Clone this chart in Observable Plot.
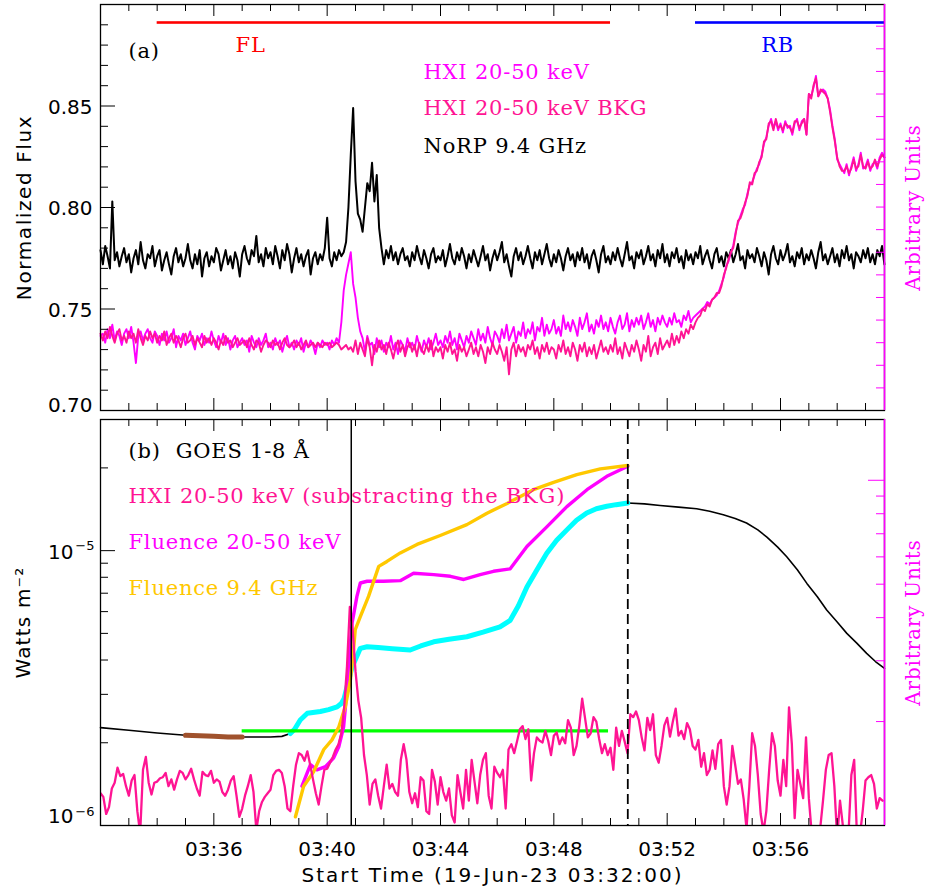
<!DOCTYPE html>
<html><head><meta charset="utf-8">
<script src="https://cdn.jsdelivr.net/npm/d3@7"></script>
<script src="https://cdn.jsdelivr.net/npm/@observablehq/plot@0.6"></script>
<style>
html,body{margin:0;padding:0;background:#fff;}
#chart{position:relative;width:930px;height:892px;background:#fff;}
#chart svg{position:absolute;left:0;background:#fff;}
svg [font-family="DejaVu Serif"]{letter-spacing:0.8px;}
</style></head><body><div id="chart"></div>
<script>
// ---------------- DATA ----------------
// time in minutes since 03:32:00
const tEnd = 27.67;
const stepA = 5 / 60;        // panel (a) cadence, minutes
const stepSub = 0.1;         // HXI background-subtracted cadence, minutes

// (a) NoRP 9.4 GHz normalized flux
const norp = [
0.779,0.772,0.781,0.776,0.770,0.803,0.774,0.778,0.771,0.776,0.780,0.773,
0.777,0.768,0.775,0.779,0.772,0.783,0.774,0.770,0.777,0.775,0.781,0.771,
0.776,0.779,0.769,0.774,0.778,0.772,0.767,0.776,0.780,0.773,0.777,0.771,
0.775,0.782,0.774,0.770,0.777,0.772,0.779,0.766,0.775,0.778,0.771,0.776,
0.773,0.780,0.777,0.769,0.774,0.779,0.772,0.776,0.770,0.778,0.774,0.766,
0.777,0.781,0.775,0.772,0.779,0.776,0.786,0.773,0.777,0.771,0.780,0.775,
0.778,0.772,0.781,0.776,0.770,0.779,0.774,0.782,0.777,0.768,0.775,0.780,
0.773,0.777,0.771,0.776,0.779,0.767,0.775,0.778,0.772,0.777,0.774,0.780,
0.795,0.775,0.771,0.778,0.774,0.779,0.776,0.778,0.783,0.800,0.826,0.849,
0.813,0.797,0.794,0.788,0.800,0.812,0.808,0.822,0.803,0.816,0.790,0.780,
0.772,0.779,0.775,0.781,0.774,0.778,0.772,0.777,0.780,0.774,0.776,0.771,
0.778,0.774,0.781,0.776,0.772,0.779,0.775,0.770,0.777,0.780,0.773,0.776,
0.774,0.779,0.771,0.776,0.782,0.775,0.772,0.778,0.774,0.780,0.776,0.770,
0.777,0.773,0.779,0.775,0.771,0.776,0.781,0.774,0.777,0.769,0.775,0.779,
0.774,0.778,0.783,0.773,0.777,0.771,0.766,0.776,0.780,0.774,0.778,0.772,
0.776,0.781,0.775,0.770,0.778,0.774,0.779,0.772,0.777,0.782,0.775,0.771,
0.777,0.773,0.779,0.775,0.769,0.776,0.780,0.774,0.777,0.771,0.778,0.774,
0.780,0.773,0.777,0.770,0.776,0.779,0.774,0.768,0.777,0.781,0.773,0.776,
0.772,0.778,0.774,0.780,0.775,0.771,0.777,0.783,0.774,0.776,0.770,0.778,
0.775,0.779,0.772,0.776,0.781,0.774,0.777,0.771,0.779,0.775,0.782,0.773,
0.777,0.771,0.778,0.775,0.780,0.773,0.776,0.770,0.779,0.774,0.777,0.772,
0.778,0.775,0.781,0.772,0.776,0.779,0.774,0.770,0.777,0.780,0.773,0.776,
0.771,0.778,0.775,0.779,0.773,0.777,0.782,0.774,0.776,0.770,0.779,0.775,
0.777,0.773,0.780,0.776,0.771,0.778,0.774,0.767,0.777,0.781,0.775,0.772,
0.779,0.774,0.777,0.782,0.773,0.776,0.771,0.778,0.775,0.780,0.772,0.777,
0.774,0.779,0.775,0.770,0.778,0.783,0.774,0.777,0.772,0.776,0.780,0.773,
0.777,0.771,0.779,0.775,0.781,0.774,0.777,0.770,0.778,0.776,0.773,0.779,
0.775,0.780,0.773,0.777,0.772,0.779,0.776,0.781,0.772];

// (a) HXI 20-50 keV, arbitrary units (right axis)
const hxi = [
3.3,3.4,3.0,3.6,3.2,3.8,3.1,3.5,3.3,2.9,3.4,3.6,
3.2,3.7,3.0,2.1,3.3,3.5,3.1,3.4,3.6,3.2,3.0,3.5,
3.3,2.9,3.4,3.1,3.5,3.0,3.2,3.6,2.8,3.3,3.1,3.4,
2.9,3.2,3.5,3.0,2.7,3.3,3.1,3.4,2.9,3.2,3.0,3.5,
3.1,2.8,3.3,3.0,3.4,2.9,3.2,2.7,3.1,3.3,2.8,3.0,
3.2,2.9,3.1,2.6,3.3,3.0,2.8,3.2,2.9,3.1,3.4,2.8,
3.0,2.7,3.2,2.9,3.1,2.6,3.0,3.3,2.8,3.0,2.7,3.1,
2.9,3.2,2.6,3.0,2.8,3.1,2.9,2.5,3.0,2.8,3.1,2.9,
3.0,2.7,3.1,2.9,3.2,3.0,3.9,5.3,6.0,6.5,7.0,5.6,
5.0,4.1,3.5,3.2,2.6,3.3,2.9,3.0,2.5,3.2,2.8,3.1,
2.6,3.0,2.8,3.3,2.7,3.0,2.5,3.1,2.9,2.6,3.2,2.8,
3.0,2.7,3.3,2.9,2.6,3.1,2.8,3.2,2.7,3.0,3.4,2.9,
3.1,2.8,3.3,3.0,3.5,2.9,3.2,2.7,3.4,3.1,2.8,3.3,
3.0,3.5,3.2,2.9,3.6,3.1,3.4,3.0,3.7,3.2,2.9,3.5,
3.3,3.0,3.6,3.2,3.8,3.1,3.4,3.7,3.0,3.5,3.3,3.9,
3.2,3.6,3.4,3.9,3.1,3.7,3.5,4.1,3.3,3.8,3.4,3.6,
4.0,3.4,3.7,3.3,4.2,3.6,3.9,3.5,4.0,3.7,3.3,4.1,
3.6,3.9,4.3,3.5,3.8,3.4,4.0,3.7,4.2,3.6,3.9,3.5,
4.1,3.7,3.4,3.9,4.2,3.6,3.8,4.3,3.5,4.0,3.7,4.1,
3.8,4.2,3.6,3.9,4.3,3.7,4.0,3.5,4.1,3.8,4.2,3.9,
3.7,4.1,3.8,4.3,3.9,4.0,3.7,4.2,4.0,4.4,3.9,4.1,
4.2,4.3,4.4,4.5,4.6,4.8,4.7,4.9,5.0,5.1,5.3,5.6,
5.9,6.4,6.6,7.0,7.3,7.9,8.3,8.6,8.9,9.1,9.6,10.0,
10.1,10.4,10.7,10.9,11.3,11.8,12.1,12.6,12.9,12.5,12.8,12.4,
12.7,12.3,12.8,12.5,12.6,12.2,12.7,12.9,12.4,12.8,12.9,12.2,
14.0,13.9,14.3,14.8,13.9,14.1,14.2,14.1,13.8,13.3,12.6,12.0,
11.1,10.9,10.7,10.5,10.9,10.4,10.8,11.2,10.6,10.9,11.4,10.7,
10.8,11.1,10.6,10.9,11.0,10.7,11.2,11.4,11.2];

// (a) HXI 20-50 keV BKG, arbitrary units (right axis)
const hxiBkg = [
3.4,3.1,3.5,3.2,3.7,3.3,3.0,3.4,3.6,3.1,3.3,3.0,
3.5,3.2,3.4,3.0,3.6,3.2,2.9,3.3,3.1,3.5,3.2,3.4,
3.0,3.3,3.1,3.5,2.9,3.2,3.4,3.0,3.3,3.1,2.8,3.2,
3.4,3.0,3.1,3.3,2.9,3.2,3.0,2.8,3.3,3.0,3.2,2.9,
3.2,3.0,2.7,3.1,2.9,3.3,3.0,3.1,2.8,3.0,3.2,2.9,
3.0,3.1,2.8,3.2,2.9,2.7,3.1,3.0,2.6,2.9,3.1,3.0,
2.8,3.1,2.9,3.0,2.7,3.0,3.2,2.9,2.8,2.9,3.1,2.8,
3.0,2.7,2.9,3.1,2.8,2.9,3.0,2.8,3.0,2.9,2.8,3.0,
2.9,3.0,2.8,2.9,3.0,2.9,2.7,2.8,2.9,2.7,2.8,2.6,
3.1,2.5,3.0,2.7,2.4,3.2,2.8,2.0,2.9,2.6,3.1,2.7,
2.9,2.5,3.0,2.7,2.3,2.8,3.1,2.6,2.9,2.4,2.8,3.0,
2.6,2.9,2.4,3.0,2.7,2.5,2.9,2.6,3.1,2.4,2.8,2.6,
2.8,2.3,2.9,2.6,3.0,2.5,2.7,2.2,2.9,2.6,2.8,2.4,
2.7,3.0,2.5,2.8,2.4,2.9,2.6,2.1,2.8,2.5,3.0,2.7,
2.5,2.9,2.6,2.2,2.8,1.6,2.7,3.0,2.4,2.9,2.6,2.8,
2.4,2.9,2.7,3.1,2.5,2.8,2.3,2.9,2.6,3.0,2.5,2.8,
2.7,2.3,2.9,2.6,3.1,2.5,2.8,2.4,3.0,2.7,2.2,2.9,
2.6,3.0,2.4,2.8,2.5,2.9,2.3,2.7,3.1,2.6,2.8,2.5,
2.9,2.6,3.2,2.5,2.8,2.3,3.0,2.7,2.4,2.9,2.6,3.1,
2.7,2.2,2.9,2.6,3.3,2.4,2.8,3.0,2.5,3.2,2.7,2.9,
3.1,2.8,3.4,2.9,3.3,3.0,3.5,3.2,3.6,3.4,3.8,3.6,
3.9,4.1,4.2,4.5,4.4,4.7,4.6,4.9,5.0,5.2,5.2,5.5,
6.0,6.3,6.7,7.0,7.2,7.8,8.4,8.5,8.8,9.2,9.5,10.1,
10.0,10.5,10.6,11.0,11.2,11.9,12.0,12.7,12.8,12.4,12.9,12.5,
12.6,12.4,12.7,12.6,12.5,12.3,12.8,12.8,12.5,12.7,12.9,12.2,
14.0,13.8,14.4,14.7,13.9,14.2,14.1,14.0,13.8,13.2,12.5,11.9,
11.2,10.8,10.6,10.6,10.8,10.5,10.7,11.1,10.7,10.8,11.3,10.8,
10.7,11.0,10.7,10.8,11.1,10.8,11.1,11.3,11.2];

// (b) HXI 20-50 keV background subtracted, arbitrary units (right log axis)
const hxiSub = [
1.24,1.21,1.08,1.13,1.28,1.33,1.47,1.39,1.41,1.30,
1.22,1.35,1.40,1.10,0.95,1.45,1.58,1.33,1.23,1.33,
1.34,1.37,1.38,1.42,1.30,1.36,1.27,1.36,1.44,1.42,
1.36,1.40,1.46,1.36,1.28,1.22,1.43,1.40,1.39,1.44,
1.33,1.36,1.34,1.25,1.22,1.27,1.35,1.39,1.22,1.06,
1.12,1.22,1.30,1.40,1.25,0.97,1.10,1.17,1.21,1.24,
1.27,1.40,1.44,1.45,1.42,1.30,1.12,1.10,1.30,1.50,
1.62,1.60,1.54,1.64,1.50,1.36,1.24,1.15,1.30,1.45,
1.46,1.52,1.58,1.66,1.72,1.85,2.20,2.89,4.30,3.70,
2.80,2.30,2.05,1.60,1.40,1.15,1.32,1.36,1.22,1.12,
1.30,1.50,1.28,1.32,1.25,1.22,1.55,1.72,1.55,1.25,
1.16,1.24,1.13,1.38,1.35,1.10,1.08,1.45,1.34,1.15,
1.38,1.25,1.18,1.28,1.07,1.02,1.40,1.25,1.12,1.45,
1.18,1.55,1.34,1.16,1.40,1.55,1.62,1.22,1.12,1.48,
1.42,1.38,1.45,1.12,1.66,1.72,1.62,1.75,1.90,1.94,
1.78,1.90,1.35,1.62,1.80,1.76,1.74,1.88,1.76,1.60,
1.82,1.86,1.72,1.80,1.73,2.02,1.92,1.60,1.70,1.95,
2.33,2.05,1.80,1.85,2.06,2.00,1.78,1.62,1.72,1.60,
1.68,1.45,1.92,1.70,1.88,1.75,1.62,2.10,2.06,2.14,
2.02,1.80,1.65,2.05,1.89,2.10,1.60,1.52,1.70,1.95,
2.05,1.81,2.00,2.18,1.82,1.88,1.78,1.98,1.90,1.70,
1.66,1.77,1.48,1.62,1.40,1.45,1.65,1.46,1.72,1.77,
1.30,1.15,1.30,1.70,1.50,1.32,1.36,1.19,0.98,1.30,
1.85,1.70,1.40,1.08,0.96,1.10,1.45,1.85,1.70,1.35,
1.22,1.55,1.30,2.20,1.72,1.05,1.45,1.32,1.20,1.80,
1.20,0.95,0.92,0.97,0.98,1.18,1.45,1.60,1.62,1.30,
0.92,1.18,1.00,0.92,0.95,1.40,1.55,0.92,0.93,1.10,
1.35,1.38,1.40,1.32,1.12,1.20,1.18];

// (b) GOES 1-8 Å flux (W m^-2)
const goesT = [0,1,2,3,3.5,4,4.5,5,5.5,6,6.4,6.7,6.85,7.05,7.3,7.76,8.05,8.35,8.5,8.6,8.76,8.88,8.99,9.17,9.41,9.8,10.3,10.93,11.3,11.76,12.3,12.93,13.5,14.1,14.46,14.75,15.05,15.4,15.75,16.1,16.46,16.8,17.16,17.5,17.87,18.2,18.61,19.2,19.75,20.4,21.04,21.5,21.98,22.4,22.8,23.2,23.52,23.9,24.22,24.6,24.93,25.3,25.63,26.0,26.34,26.7,27.04,27.35,27.67];
const goesF = [2.27e-6,2.22e-6,2.17e-6,2.13e-6,2.12e-6,2.11e-6,2.10e-6,2.10e-6,2.10e-6,2.10e-6,2.11e-6,2.16e-6,2.24e-6,2.42e-6,2.56e-6,2.60e-6,2.64e-6,2.70e-6,2.78e-6,2.90e-6,3.38e-6,3.78e-6,4.00e-6,4.41e-6,4.47e-6,4.44e-6,4.40e-6,4.35e-6,4.50e-6,4.66e-6,4.76e-6,4.86e-6,5.05e-6,5.28e-6,5.58e-6,6.30e-6,7.38e-6,8.50e-6,9.78e-6,1.09e-5,1.19e-5,1.29e-5,1.37e-5,1.42e-5,1.45e-5,1.47e-5,1.49e-5,1.48e-5,1.46e-5,1.44e-5,1.42e-5,1.39e-5,1.35e-5,1.31e-5,1.26e-5,1.19e-5,1.12e-5,1.03e-5,9.5e-6,8.5e-6,7.6e-6,6.8e-6,6.08e-6,5.5e-6,5.0e-6,4.6e-6,4.23e-6,3.95e-6,3.73e-6];

// (b) Fluence 20-50 keV, arbitrary units (right log axis)
const fluHxiT = [7.11,7.41,7.64,7.94,8.23,8.41,8.58,8.70,8.79,8.88,9.05,9.17,9.41,9.99,10.58,11.05,11.76,12.35,12.82,13.40,13.87,14.46,15.05,15.76,16.46,17.17,17.87,18.61];
const fluHxiV = [1.30,1.50,1.45,1.48,1.57,1.69,1.93,2.47,3.16,3.86,4.61,5.04,5.10,5.10,5.12,5.38,5.33,5.27,5.16,5.33,5.45,5.54,6.43,7.34,8.39,9.39,10.27,10.98];

// (b) Fluence 9.4 GHz, arbitrary units (right log axis)
const fluRadT = [6.88,7.17,7.52,7.88,8.17,8.41,8.64,8.82,8.93,8.99,9.17,9.46,9.82,10.11,10.58,11.17,11.99,12.93,13.64,14.35,15.28,15.99,16.81,17.64,18.61];
const fluRadV = [1.06,1.30,1.43,1.66,1.77,1.93,2.21,2.64,3.23,3.69,4.03,4.61,5.63,5.82,6.16,6.52,6.92,7.44,8.03,8.57,9.39,9.86,10.39,10.79,11.04];

// intervals / reference levels
const bkgWindow = [3.0, 5.0];          // GOES background window (brown)
const goesHighlight = [6.7, 18.61];    // GOES highlighted (cyan)
const bkgLevel = [{level: 2.21e-6, start: 5.0, end: 17.93}];
const markerSolid = [8.85];
const markerDashed = [18.61];
const phases = [
  {name: "FL", start: 2.0, end: 18.0, labelAt: 5.3},
  {name: "RB", start: 21.0, end: 27.67, labelAt: 23.9}
];

// ticks and labels
const xMajor = [4, 8, 12, 16, 20, 24];
const xMinor = [1,2,3,5,6,7,9,10,11,13,14,15,17,18,19,21,22,23,25,26,27];
const yMajorA = [0.70, 0.75, 0.80, 0.85];
const yMinorA = [0.71,0.72,0.73,0.74,0.76,0.77,0.78,0.79,0.81,0.82,0.83,0.84,0.86,0.87,0.88,0.89];
const rightTicksA = [1,2,3,4,5,6,7,8,9,10,11,12,13,14,15,16,17];
const yMajorB = [1e-6, 1e-5];
const yMinorB = [2e-6,3e-6,4e-6,5e-6,6e-6,7e-6,8e-6,9e-6,2e-5];
const rightMinorB = [2,3,4,5,6,7,8,9];
const rightMajorB = [10];
const legendA = ["HXI 20-50 keV", "HXI 20-50 keV BKG", "NoRP 9.4 GHz"];
const legendB = ["(b)  GOES 1-8 Å", "HXI 20-50 keV (substracting the BKG)", "Fluence 20-50 keV", "Fluence 9.4 GHz"];
const yTitleA = "Normalized Flux";
const yTitleB = "Watts m\u207B\u00B2";
const yTitleRight = "Arbitrary Units";
const xTitle = "Start Time (19-Jun-23 03:32:00)";

// ---------------- STYLE ----------------
const C = {black: "#000", magenta: "#ff00ff", pink: "#ff1493", cyan: "#00ffff", brown: "#a0522d", green: "#00ff00", gold: "#ffc800", red: "#ff0000", blue: "#0000ff"};
const phaseColor = {FL: C.red, RB: C.blue};
const legendAColors = [C.magenta, C.pink, C.black];
const legendBColors = [C.black, C.pink, C.magenta, C.gold];
const legendADy = [68, 104, 142];
const legendBDy = [32, 77, 123, 169];
const frameW = 784, frameH = 406;
const serif = "DejaVu Serif";

// right-axis mappings (arbitrary units onto the left scales)
const yDomA = [0.70, 0.90], arbTopA = 17.96;
const arbA = a => yDomA[0] + a * (yDomA[1] - yDomA[0]) / arbTopA;
const yDomB = [1e-6, 3.0e-5], arbExpB = 1.256;
const arbB = v => yDomB[0] * Math.pow(v, arbExpB);

const fmtTime = t => { const m = 32 + t; return "03:" + String(m).padStart(2, "0"); };

const norpData = norp.map((v, i) => ({t: i * stepA, v}));
const hxiData = hxi.map((v, i) => ({t: i * stepA, v}));
const bkgData = hxiBkg.map((v, i) => ({t: i * stepA, v}));
const subData = hxiSub.map((v, i) => ({t: i * stepSub, v}));
const goes = goesT.map((t, i) => ({t, f: goesF[i]}));
const fluHxi = fluHxiT.map((t, i) => ({t, v: fluHxiV[i]}));
const fluRad = fluRadT.map((t, i) => ({t, v: fluRadV[i]}));

function xTickMarks() {
  return [
    Plot.tickX(xMinor, {x: d => d, insetBottom: frameH - 7, stroke: C.black}),
    Plot.tickX(xMajor, {x: d => d, insetBottom: frameH - 12, stroke: C.black}),
    Plot.tickX(xMinor, {x: d => d, insetTop: frameH - 7, stroke: C.black}),
    Plot.tickX(xMajor, {x: d => d, insetTop: frameH - 12, stroke: C.black})
  ];
}
const mid = {lineAnchor: "middle"};

// ---------------- PANEL A ----------------
const plotA = Plot.plot({
  width: 930, height: 418,
  marginLeft: 100, marginRight: 46, marginTop: 4, marginBottom: 8,
  style: {fontFamily: "DejaVu Sans", fontSize: "20px", background: "#fff", color: "#000"},
  x: {domain: [0, tEnd], axis: null},
  y: {domain: yDomA, axis: null},
  marks: [
    Plot.lineY(norpData, {x: "t", y: "v", stroke: C.black, strokeWidth: 2}),
    Plot.lineY(hxiData, {x: "t", y: d => arbA(d.v), stroke: C.magenta, strokeWidth: 1.9}),
    Plot.lineY(bkgData, {x: "t", y: d => arbA(d.v), stroke: C.pink, strokeWidth: 1.9}),
    Plot.rect(phases, {x1: "start", x2: "end", insetTop: 17.2, insetBottom: frameH - 17.2 - 2.6, fill: d => phaseColor[d.name]}),
    Plot.text(phases, {x: "labelAt", text: "name", frameAnchor: "top", dy: 41, ...mid, fill: d => phaseColor[d.name], fontFamily: serif, fontSize: 21}),
    Plot.text(["(a)"], {text: d => d, frameAnchor: "top-left", dx: 28, dy: 47, ...mid, textAnchor: "start", fontFamily: serif, fontSize: 21, fill: C.black}),
    ...legendA.map((s, i) => Plot.text([s], {text: d => d, frameAnchor: "top-left", dx: 323, dy: legendADy[i], ...mid, textAnchor: "start", fill: legendAColors[i], fontFamily: serif, fontSize: 21})),
    Plot.frame({stroke: C.black, strokeWidth: 1.3}),
    Plot.ruleX([tEnd], {stroke: C.magenta, strokeWidth: 1.6}),
    Plot.tickY(yMajorA, {y: d => d, insetRight: frameW - 15, stroke: C.black}),
    Plot.tickY(yMinorA, {y: d => d, insetRight: frameW - 8, stroke: C.black}),
    Plot.tickY(rightTicksA, {y: d => arbA(d), insetLeft: frameW - 8, stroke: C.magenta}),
    ...xTickMarks(),
    Plot.text(yMajorA.slice(1), {y: d => d, text: d => d.toFixed(2), frameAnchor: "left", dx: -8, dy: 1.5, textAnchor: "end"}),
    Plot.text(yMajorA.slice(0, 1), {y: d => d, text: d => d.toFixed(2), frameAnchor: "left", dx: -8, dy: -5, textAnchor: "end"}),
    Plot.text([yTitleA], {text: d => d, frameAnchor: "left", dx: -76, rotate: -90, textAnchor: "middle", ...mid}),
    Plot.text([yTitleRight], {text: d => d, frameAnchor: "right", dx: 29, rotate: -90, textAnchor: "middle", ...mid, fill: C.magenta, fontFamily: serif, fontSize: 20})
  ]
});

// ---------------- PANEL B ----------------
const inRange = (r) => d => d.t >= r[0] && d.t <= r[1];
const plotB = Plot.plot({
  width: 930, height: 474,
  marginLeft: 100, marginRight: 46, marginTop: 1, marginBottom: 67,
  style: {fontFamily: "DejaVu Sans", fontSize: "20px", background: "#fff", color: "#000"},
  x: {domain: [0, tEnd], axis: null},
  y: {type: "log", domain: yDomB, axis: null},
  marks: [
    Plot.lineY(goes, {x: "t", y: "f", stroke: C.black, strokeWidth: 1.6}),
    Plot.lineY(goes.filter(inRange(bkgWindow)), {x: "t", y: "f", stroke: C.brown, strokeWidth: 5}),
    Plot.lineY(goes.filter(inRange(goesHighlight)), {x: "t", y: "f", stroke: C.cyan, strokeWidth: 5}),
    Plot.ruleY(bkgLevel, {y: "level", x1: "start", x2: "end", stroke: C.green, strokeWidth: 3.2}),
    Plot.lineY(fluHxi, {x: "t", y: d => arbB(d.v), stroke: C.magenta, strokeWidth: 3.4}),
    Plot.lineY(fluRad, {x: "t", y: d => arbB(d.v), stroke: C.gold, strokeWidth: 3.4}),
    Plot.lineY(subData, {x: "t", y: d => arbB(d.v), stroke: C.pink, strokeWidth: 2.3, clip: true}),
    Plot.ruleX(markerSolid, {x: d => d, stroke: C.black, strokeWidth: 1.5}),
    Plot.ruleX(markerDashed, {x: d => d, stroke: C.black, strokeWidth: 1.8, strokeDasharray: "10,5"}),
    ...legendB.map((s, i) => Plot.text([s], {text: d => d, frameAnchor: "top-left", dx: 28, dy: legendBDy[i], ...mid, textAnchor: "start", fill: legendBColors[i], fontFamily: serif, fontSize: 21})),
    Plot.frame({stroke: C.black, strokeWidth: 1.3}),
    Plot.ruleX([tEnd], {stroke: C.magenta, strokeWidth: 1.6}),
    Plot.tickY(yMajorB, {y: d => d, insetRight: frameW - 15, stroke: C.black}),
    Plot.tickY(yMinorB, {y: d => d, insetRight: frameW - 8, stroke: C.black}),
    Plot.tickY(rightMinorB, {y: d => arbB(d), insetLeft: frameW - 8, stroke: C.magenta}),
    Plot.tickY(rightMajorB, {y: d => arbB(d), insetLeft: frameW - 16, stroke: C.magenta}),
    ...xTickMarks(),
    Plot.text(xMajor, {x: d => d, text: fmtTime, frameAnchor: "bottom", dy: 24, ...mid}),
    Plot.text([xTitle], {text: d => d, frameAnchor: "bottom", dy: 50, ...mid}),
    Plot.text(yMajorB.slice(1), {y: d => d, text: () => "10", frameAnchor: "left", dx: -27, dy: 2, textAnchor: "end"}),
    Plot.text(yMajorB.slice(1), {y: d => d, text: d => "\u2212" + (-Math.round(Math.log10(d))), frameAnchor: "left", dx: -6, dy: -5, textAnchor: "end", fontSize: 13}),
    Plot.text(yMajorB.slice(0, 1), {y: d => d, text: () => "10", frameAnchor: "left", dx: -27, dy: -9, textAnchor: "end"}),
    Plot.text(yMajorB.slice(0, 1), {y: d => d, text: d => "\u2212" + (-Math.round(Math.log10(d))), frameAnchor: "left", dx: -6, dy: -14, textAnchor: "end", fontSize: 13}),
    Plot.text([yTitleB], {text: d => d, frameAnchor: "left", dx: -77, rotate: -90, textAnchor: "middle", ...mid}),
    Plot.text([yTitleRight], {text: d => d, frameAnchor: "right", dx: 29, rotate: -90, textAnchor: "middle", ...mid, fill: C.magenta, fontFamily: serif, fontSize: 20})
  ]
});

// letter spacing of the titles (as in the original IDL output)
const spacing = {[yTitleA]: "1.6px", [yTitleB]: "1.2px", [xTitle]: "2px"};
for (const svg of [plotA, plotB]) {
  d3.select(svg).selectAll("text").each(function () {
    const s = spacing[this.textContent];
    if (s) d3.select(this).attr("letter-spacing", s);
  });
}

const chart = document.getElementById("chart");
plotA.style.top = "0px";
plotB.style.top = "418px";
chart.appendChild(plotA);
chart.appendChild(plotB);
</script>
</body></html>
